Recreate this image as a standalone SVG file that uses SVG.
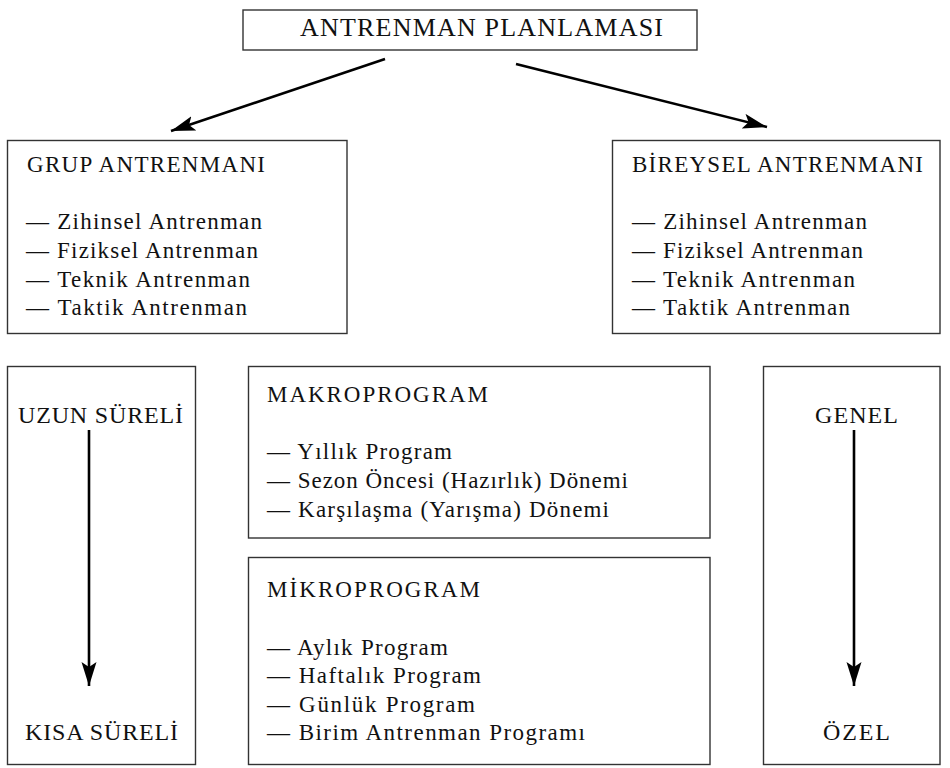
<svg xmlns="http://www.w3.org/2000/svg" width="950" height="768" viewBox="0 0 950 768">
<defs>
<marker id="ah" markerWidth="26" markerHeight="16" refX="24" refY="8" orient="auto" markerUnits="userSpaceOnUse">
<path d="M0,0.5 L24,8 L0,15.5 L5,8 Z" fill="#000"/>
</marker>
</defs>
<style>
rect.box{fill:#fff;stroke:#333;stroke-width:1.4}
text{font-family:'Liberation Serif','Times New Roman','DejaVu Serif',serif;fill:#111}
text.h0{font-size:26px}
text.h1{font-size:23px}
text.it{font-size:23px}
text.big{font-size:24px}
line.arr{stroke:#000;stroke-width:2.6;fill:none;marker-end:url(#ah)}
</style>
<rect width="950" height="768" fill="#fff"/>

<g id="planlama">
<rect class="box" x="243" y="10" width="454" height="40"/>
<text class="h0" x="300" y="36" textLength="363" lengthAdjust="spacing">ANTRENMAN PLANLAMASI</text>
</g>

<g id="grup">
<rect class="box" x="7.5" y="140.5" width="339.5" height="193"/>
<text class="h1" x="27" y="172" textLength="238" lengthAdjust="spacing">GRUP ANTRENMANI</text>
<text class="it" x="26" y="229" textLength="236" lengthAdjust="spacing">— Zihinsel Antrenman</text>
<text class="it" x="26" y="258" textLength="232" lengthAdjust="spacing">— Fiziksel Antrenman</text>
<text class="it" x="26" y="287" textLength="224" lengthAdjust="spacing">— Teknik Antrenman</text>
<text class="it" x="26" y="315" textLength="221" lengthAdjust="spacing">— Taktik Antrenman</text>
</g>

<g id="bireysel">
<rect class="box" x="612.5" y="140.5" width="327.5" height="193"/>
<text class="h1" x="632" y="172" textLength="291" lengthAdjust="spacing">BİREYSEL ANTRENMANI</text>
<text class="it" x="632" y="229" textLength="235" lengthAdjust="spacing">— Zihinsel Antrenman</text>
<text class="it" x="632" y="258" textLength="231" lengthAdjust="spacing">— Fiziksel Antrenman</text>
<text class="it" x="632" y="287" textLength="223" lengthAdjust="spacing">— Teknik Antrenman</text>
<text class="it" x="632" y="315" textLength="218" lengthAdjust="spacing">— Taktik Antrenman</text>
</g>

<g id="sure">
<rect class="box" x="7.5" y="366.5" width="188" height="398"/>
<text class="big" x="18" y="423" textLength="165" lengthAdjust="spacing">UZUN SÜRELİ</text>
<text class="big" x="25" y="740" textLength="153" lengthAdjust="spacing">KISA SÜRELİ</text>
</g>

<g id="makro">
<rect class="box" x="248.5" y="366.5" width="461.5" height="171.5"/>
<text class="h1" x="267" y="402" textLength="221" lengthAdjust="spacing">MAKROPROGRAM</text>
<text class="it" x="267" y="459" textLength="185" lengthAdjust="spacing">— Yıllık Program</text>
<text class="it" x="267" y="488" textLength="361" lengthAdjust="spacing">— Sezon Öncesi (Hazırlık) Dönemi</text>
<text class="it" x="267" y="517" textLength="342" lengthAdjust="spacing">— Karşılaşma (Yarışma) Dönemi</text>
</g>

<g id="mikro">
<rect class="box" x="248.5" y="557.5" width="461.5" height="207"/>
<text class="h1" x="267" y="597" textLength="213" lengthAdjust="spacing">MİKROPROGRAM</text>
<text class="it" x="267" y="655" textLength="181" lengthAdjust="spacing">— Aylık Program</text>
<text class="it" x="267" y="683" textLength="214" lengthAdjust="spacing">— Haftalık Program</text>
<text class="it" x="267" y="712" textLength="208" lengthAdjust="spacing">— Günlük Program</text>
<text class="it" x="267" y="740" textLength="318" lengthAdjust="spacing">— Birim Antrenman Programı</text>
</g>

<g id="genel">
<rect class="box" x="763.5" y="366.5" width="176.5" height="398"/>
<text class="big" x="815" y="423" textLength="83" lengthAdjust="spacing">GENEL</text>
<text class="big" x="823" y="740" textLength="67" lengthAdjust="spacing">ÖZEL</text>
</g>

<g id="connectors">
<line class="arr" x1="385" y1="59" x2="171" y2="131"/>
<line class="arr" x1="516" y1="64" x2="767" y2="127"/>
<line class="arr" x1="89" y1="430" x2="89" y2="686"/>
<line class="arr" x1="854" y1="430" x2="854" y2="686"/>
</g>
</svg>
